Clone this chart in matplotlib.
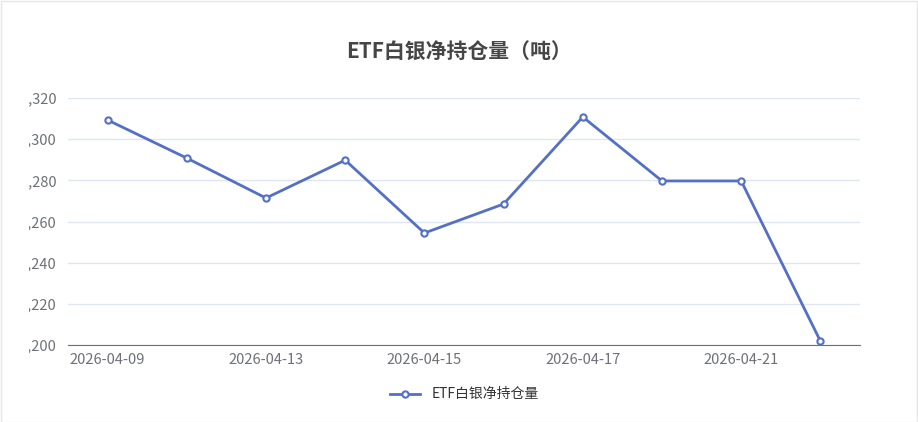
import matplotlib.pyplot as plt
from matplotlib.patches import Rectangle

plt.rcParams['font.family'] = ['Noto Sans CJK SC', 'DejaVu Sans']

dates = ['2026-04-09', '2026-04-10', '2026-04-13', '2026-04-14', '2026-04-15',
         '2026-04-16', '2026-04-17', '2026-04-20', '2026-04-21', '2026-04-22']
holdings = [15309.3, 15290.8, 15271.4, 15289.8, 15254.4,
            15268.5, 15310.8, 15279.7, 15279.7, 15201.9]
yticks = [15200, 15220, 15240, 15260, 15280, 15300, 15320]

W, H = 918, 422
fig = plt.figure(figsize=(W / 100, H / 100), dpi=100)
ax = fig.add_axes([68 / W, 1 - 345 / H, (860 - 68) / W, (345 - 98) / H])

color = '#5470c6'
x = list(range(len(dates)))
ax.plot(x, holdings, color=color, lw=2, marker='o', ms=4.5,
        mfc='white', mec=color, mew=1.5, label='ETF白银净持仓量', zorder=3)

ax.set_ylim(15200, 15320)
ax.set_yticks(yticks)
ax.set_yticklabels([f'{v:,}' for v in yticks])
ax.set_xlim(-0.5, len(dates) - 0.5)
ax.set_xticks(x[::2])
ax.set_xticklabels(dates[::2])
ax.tick_params(axis='both', colors='#6e7079', labelsize=10.5, length=0)
ax.tick_params(axis='y', pad=8)
ax.tick_params(axis='x', pad=6)
ax.grid(axis='y', color='#e0e6f1', lw=1)
for s in ['top', 'right', 'left']:
    ax.spines[s].set_visible(False)
ax.spines['bottom'].set_color('#6e7079')

fig.text(0.5, 1 - 52 / H, 'ETF白银净持仓量（吨）', ha='center', va='center',
         fontsize=15, fontweight='bold', color='#464646')
ax.legend(loc='center', bbox_to_anchor=(0.5, -0.2), frameon=False,
          fontsize=10, labelcolor='#333333', handlelength=2.2)

# container clips the left of the y labels
fig.patches.append(Rectangle((0, 0), 29 / W, 1, transform=fig.transFigure,
                             facecolor='white', edgecolor='none', zorder=10))
fig.patches.append(Rectangle((1 / W, 0), (W - 2) / W, (H - 1) / H,
                             transform=fig.transFigure, facecolor='none',
                             edgecolor='#e6e6e6', lw=1, zorder=11))

fig.savefig('out.png', dpi=100)
